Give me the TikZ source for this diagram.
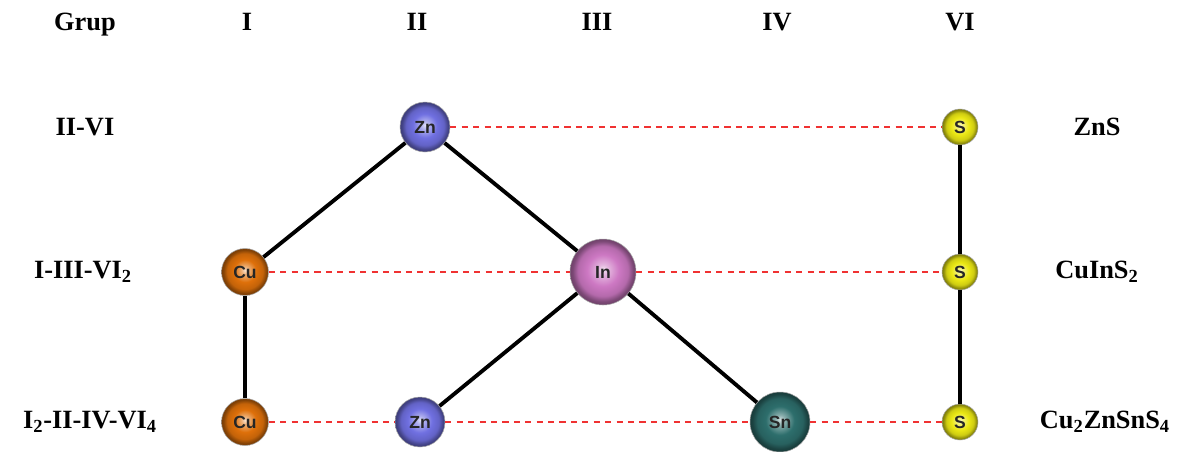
\documentclass[tikz,border=0pt]{standalone}
\usepackage{fontspec}
\setmainfont{Liberation Serif}
\newfontfamily\ballfont{Liberation Sans}
\usetikzlibrary{positioning}

\definecolor{znblue}{RGB}{112,112,225}
\definecolor{cuorange}{RGB}{222,112,10}
\definecolor{inpink}{RGB}{205,120,195}
\definecolor{snteal}{RGB}{45,110,108}
\definecolor{syellow}{RGB}{235,232,20}
\definecolor{linkred}{RGB}{240,50,50}

\makeatletter
\pgfdeclareradialshading[tikz@ball]{atomball}{\pgfpoint{0bp}{2bp}}{%
    color(0bp)=(tikz@ball!20!white);
    color(4bp)=(tikz@ball!55!white);
    color(12bp)=(tikz@ball);
    color(19bp)=(tikz@ball!88!black);
    color(23bp)=(tikz@ball!60!black);
    color(30bp)=(tikz@ball!40!black)}
\makeatother

\tikzset{
    atom/.style={circle, ball color=#1, shading=atomball, draw=black!35, line width=0.3pt,
        inner sep=0pt, text=black!85, font=\ballfont\bfseries\fontsize{10}{11}\selectfont},
    lbl/.style={font=\bfseries\fontsize{15}{18}\selectfont},
    bond/.style={line width=2.2pt, black},
    link/.style={line width=1pt, linkred, dash pattern=on 3.5pt off 3pt}
}

\begin{document}
\begin{tikzpicture}[x=0.02cm, y=-0.02cm]
    \useasboundingbox (0,0) rectangle (1180,451);

    % header row
    \foreach \name/\xx/\txt in {grup/85/Grup, gI/247/I, gII/417/II, gIII/597/III, gIV/777/IV, gVI/960/VI} {
        \node[lbl, anchor=base] (\name) at (\xx,30) {\txt};
    }

    % row labels
    \node[lbl] (rA) at (85,127) {II-VI};
    \node[lbl] (rB) at (83,272) {I-III-VI\textsubscript{2}};
    \node[lbl] (rC) at (90,422) {I\textsubscript{2}-II-IV-VI\textsubscript{4}};
    \node[lbl] (fA) at (1097,127) {ZnS};
    \node[lbl] (fB) at (1097,272) {CuInS\textsubscript{2}};
    \node[lbl] (fC) at (1105,422) {Cu\textsubscript{2}ZnSnS\textsubscript{4}};

    % atoms
    \node[atom=znblue, minimum size=1.0cm] (zn1) at (425,127) {Zn};
    \node[atom=syellow, minimum size=0.72cm] (s1) at (960,127) {S};

    \node[atom=cuorange, minimum size=0.94cm] (cu2) at (245,272) {Cu};
    \node[atom=inpink, minimum size=1.32cm] (in2) at (603,272) {In};
    \node[atom=syellow, minimum size=0.72cm] (s2) at (960,272) {S};

    \node[atom=cuorange, minimum size=0.94cm] (cu3) at (245,422) {Cu};
    \node[atom=znblue, minimum size=1.0cm] (zn3) at (420,422) {Zn};
    \node[atom=snteal, minimum size=1.2cm] (sn3) at (780,422) {Sn};
    \node[atom=syellow, minimum size=0.72cm] (s3) at (960,422) {S};

    % bonds
    \draw[bond] (zn1) -- (cu2);
    \draw[bond] (zn1) -- (in2);
    \draw[bond] (in2) -- (zn3);
    \draw[bond] (in2) -- (sn3);
    \draw[bond] (cu2) -- (cu3);
    \draw[bond] (s1) -- (s2);
    \draw[bond] (s2) -- (s3);

    % dashed links
    \draw[link] (zn1) -- (s1);
    \draw[link] (cu2) -- (in2);
    \draw[link] (in2) -- (s2);
    \draw[link] (cu3) -- (zn3);
    \draw[link] (zn3) -- (sn3);
    \draw[link] (sn3) -- (s3);
\end{tikzpicture}
\end{document}
